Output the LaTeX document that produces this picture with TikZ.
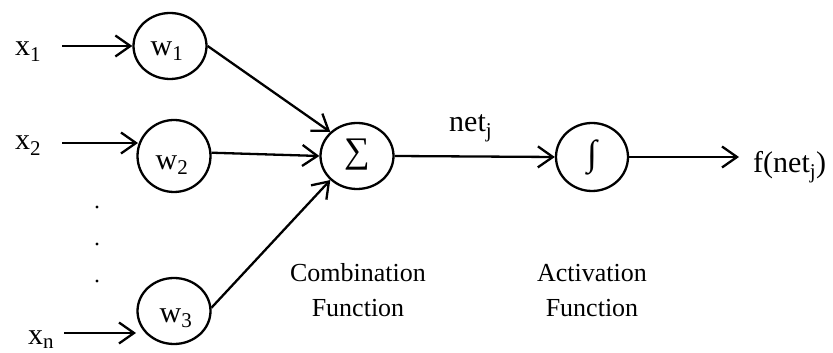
\documentclass[tikz,border=0pt]{standalone}
\usepackage{fontspec}
\setmainfont{Liberation Serif}
\usetikzlibrary{arrows.meta,shapes.geometric}
\begin{document}
\begin{tikzpicture}[x=1pt,y=1pt,
  unit/.style={draw, line width=2.3pt, ellipse, minimum width=73pt, minimum height=66pt, inner sep=0pt},
  arr/.style={line width=2.3pt, -{Straight Barb[length=15pt,width=21pt]}},
  big/.style={font=\fontsize{30}{34}\selectfont, inner sep=0pt},
  sym/.style={font=\fontsize{36}{40}\selectfont, inner sep=0pt},
  small/.style={font=\fontsize{26}{35}\selectfont, inner sep=0pt, align=center},
]
\useasboundingbox (0,0) rectangle (833,353);
% weight units
\node[unit] (w1) at (170,307) {};
\node[unit, minimum height=72pt] (w2) at (174,197) {};
\node[unit] (w3) at (174,42) {};
\node[big] (w1t) at (167,302) {w\textsubscript{1}};
\node[big] (w2t) at (172,188) {w\textsubscript{2}};
\node[big] (w3t) at (176,35) {w\textsubscript{3}};
% sum and activation
\node[unit] (sig) at (357,197) {};
\node[sym] (sigt) at (357,198) {∑};
\node[unit, minimum width=72pt, minimum height=68pt] (act) at (592,196) {};
\node[sym] (actt) at (592,196) {∫};
% inputs
\node[big, anchor=base west] (x1) at (15,297) {x\textsubscript{1}};
\node[big, anchor=base west] (x2) at (15,203) {x\textsubscript{2}};
\node[big, anchor=base west] (xn) at (28,8) {x\textsubscript{n}};
\coordinate (s1) at (62,307);
\coordinate (s2) at (62,210);
\coordinate (sn) at (64,20);
\coordinate (t2) at (138,210);
\coordinate (tn) at (136,20);
\draw[arr] (s1) -- (w1.west);
\draw[arr] (s2) -- (t2);
\draw[arr] (sn) -- (tn);
% dots
\fill (97,146) circle (1.7);
\fill (97,109) circle (1.7);
\fill (97,72) circle (1.7);
% to sum
\draw[arr] (w1.east) -- (sig.138);
\draw[arr] (w2.5) -- (sig.west);
\draw[arr] (w3.5) -- (sig.222);
% to activation and output
\draw[arr] (sig.east) -- (act.west);
\node[big, anchor=base west] (net) at (449,221) {net\textsubscript{j}};
\node[big, anchor=base west] (fout) at (753,180) {f(net\textsubscript{j})};
\draw[arr, shorten >=14pt] (act.east) -- (act.east -| fout.west);
% captions
\node[small, anchor=base] (comb) at (358,71) {Combination};
\node[small, anchor=base] (combf) at (358,36) {Function};
\node[small, anchor=base] (acti) at (592,71) {Activation};
\node[small, anchor=base] (actf) at (592,36) {Function};
\end{tikzpicture}
\end{document}
